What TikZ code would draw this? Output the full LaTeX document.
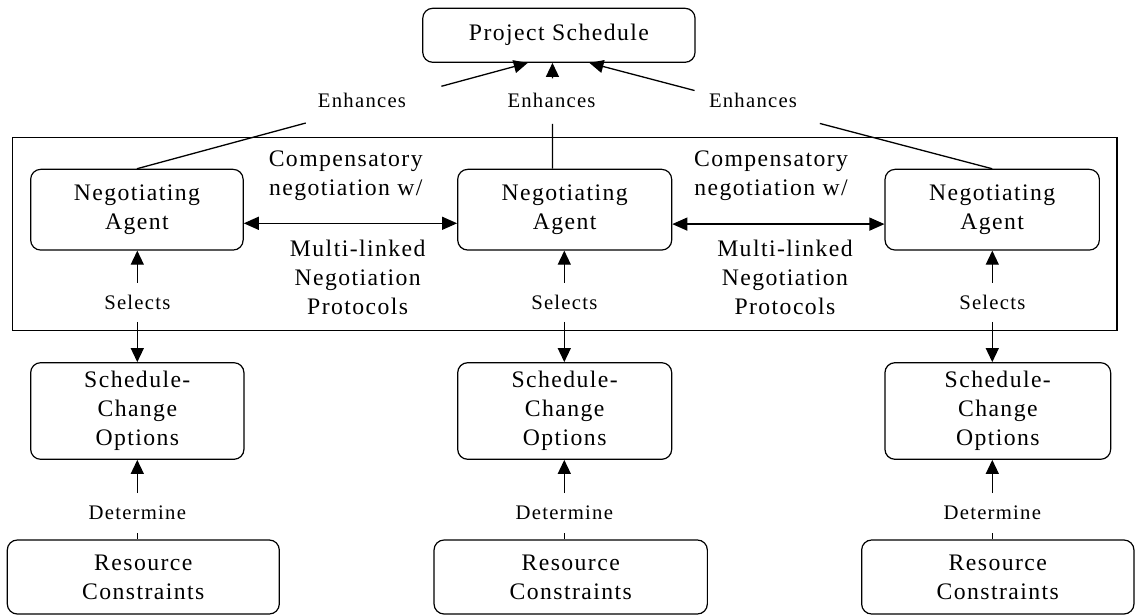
\documentclass[tikz,border=0pt]{standalone}
\usepackage{fontspec}
\setmainfont{Liberation Serif}[LetterSpace=6]
\usetikzlibrary{arrows.meta,calc}

\begin{document}
\begin{tikzpicture}[x=1pt,y=-1pt,
  box/.style={draw, rounded corners=10pt, line width=1.2pt, align=center,
    inner sep=0pt, font=\fontsize{23.7}{28.8}\selectfont},
  txt/.style={align=center, inner sep=0pt, font=\fontsize{23.7}{29}\selectfont},
  lbl/.style={inner sep=0pt, font=\fontsize{20.7}{24}\selectfont},
  link/.style={line width=1.3pt},
  arr/.style={link, -{Triangle[length=14pt,width=13pt]}},
  dbl/.style={link, {Triangle[length=15pt,width=13pt]}-{Triangle[length=15pt,width=13pt]}},
]
\useasboundingbox (0,0) rectangle (1136,615);

% top goal
\node[box, minimum width=272.3pt, minimum height=54pt] (ps) at (558.9,35.3) {Project Schedule};

% frame around the negotiating agents
\node[draw, line width=1.3pt, inner sep=0pt, minimum width=1104.3pt, minimum height=193pt]
  (team) at (564.85,234.2) {};

% agents
\node[box, minimum width=212.5pt, minimum height=80.7pt] (a1) at (136.9,209.7) {Negotiating\\Agent};
\node[box, minimum width=214pt,   minimum height=80.7pt] (a2) at (564.7,209.7) {Negotiating\\Agent};
\node[box, minimum width=214.3pt, minimum height=80.7pt] (a3) at (992.2,209.7) {Negotiating\\Agent};

% schedule-change options
\node[box, minimum width=213.3pt, minimum height=96.6pt] (sco1) at (137.3,411) {Schedule-\\Change\\Options};
\node[box, minimum width=214pt,   minimum height=96.6pt] (sco2) at (564.7,411) {Schedule-\\Change\\Options};
\node[box, minimum width=225.7pt, minimum height=96.6pt] (sco3) at (997.8,411) {Schedule-\\Change\\Options};

% resource constraints
\node[box, minimum width=272pt,   minimum height=74pt] (rc1) at (143.3,577) {Resource\\Constraints};
\node[box, minimum width=273.3pt, minimum height=74pt] (rc2) at (570.7,577) {Resource\\Constraints};
\node[box, minimum width=272.3pt, minimum height=74pt] (rc3) at (997.8,577) {Resource\\Constraints};

% negotiation protocol texts
\node[txt] (c1) at (345.7,175.4) {Compensatory\\negotiation w/};
\node[txt] (m1) at (357.7,277) {Multi-linked\\Negotiation\\Protocols};
\node[txt] (c2) at (771,175.4) {Compensatory\\negotiation w/};
\node[txt] (m2) at (785,277) {Multi-linked\\Negotiation\\Protocols};

\draw[dbl] ($(a1.east)+(0,13.6)$) -- ($(a2.west)+(0,13.6)$);
\draw[dbl] ($(a2.east)+(0,14.4)$) -- ($(a3.west)+(0,14.4)$);

% "Selects" and "Determine" links
\foreach \i/\x in {1/137.3, 2/564.3, 3/992.3} {
  \node[lbl, minimum height=38.7pt] (s\i) at (\x,302.3) {Selects};
  \node[lbl, minimum height=39.7pt] (d\i) at (\x,513.2) {Determine};
  \draw[arr] (s\i) -- (s\i |- a\i.south);
  \draw[arr] (s\i) -- (s\i |- sco\i.north);
  \draw[arr] (d\i) -- (d\i |- sco\i.south);
  \draw[link] (d\i) -- (d\i |- rc\i.north);
}

% "Enhances" links to the project schedule
\coordinate (tipL) at ($(ps.south west)+(105.6,0)$);
\coordinate (tipM) at ($(ps.south west)+(130.3,0)$);
\coordinate (tipR) at ($(ps.south west)+(167.3,0)$);
\coordinate (tipM0) at (tipM |- a2.north);

\draw[link] (a1.north) -- ($(a1.north)!0.432!(tipL)$);
\draw[arr] ($(a1.north)!0.779!(tipL)$) -- (tipL);
\draw[link] (tipM0) -- ($(tipM0)!0.423!(tipM)$);
\draw[arr] ($(tipM0)!0.853!(tipM)$) -- (tipM);
\draw[link] (a3.north) -- ($(a3.north)!0.428!(tipR)$);
\draw[arr] ($(a3.north)!0.739!(tipR)$) -- (tipR);

\node[lbl] (e1) at (362,100.8) {Enhances};
\node[lbl] (e2) at (551.5,100.8) {Enhances};
\node[lbl] (e3) at (753,100.8) {Enhances};
\end{tikzpicture}
\end{document}
